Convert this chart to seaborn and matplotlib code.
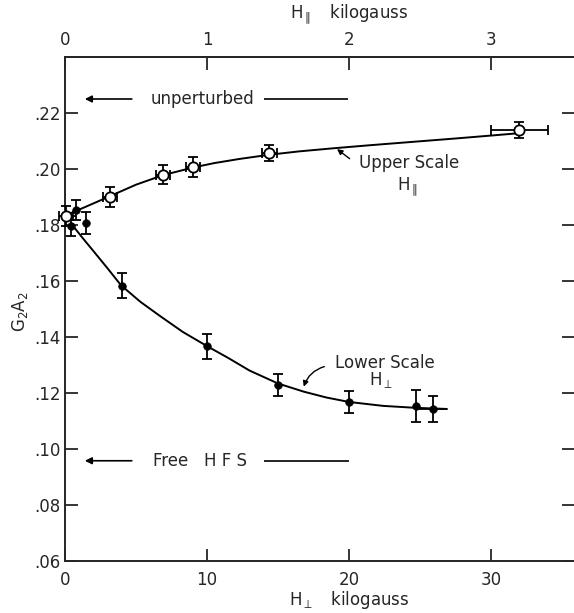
import matplotlib
matplotlib.use("Agg")
import matplotlib.pyplot as plt
import seaborn as sns
import pandas as pd

# ---- data ----
# Lower scale: H perpendicular (kilogauss), filled points
h_perp = [0.42, 0.77, 1.48, 4.0, 10.0, 15.0, 20.0, 24.7, 25.9]
g2a2_perp = [0.1797, 0.1854, 0.1807, 0.1583, 0.1367, 0.1229, 0.1168, 0.1155, 0.1144]
yerr_perp = [0.0035, 0.0035, 0.0039, 0.0044, 0.0045, 0.0039, 0.0039, 0.0057, 0.0047]
xerr_perp = [0, 0, 0, 0, 0, 0, 0, 0, 1.0]

# Upper scale: H parallel (kilogauss), open points
h_par = [0.007, 0.317, 0.69, 0.90, 1.44, 3.2]
g2a2_par = [0.1832, 0.1900, 0.1980, 0.2007, 0.2057, 0.2138]
yerr_par = [0.0036, 0.0037, 0.0034, 0.0035, 0.0027, 0.0029]
xerr_par = [0.05, 0.05, 0.05, 0.05, 0.05, 0.2]

# Hand-drawn curves
curve_perp_x = [0.5, 0.7, 1.3, 2.0, 3.0, 3.94, 5.3, 6.69, 8.3, 10.05, 11.5, 13.0, 15.0, 16.8, 18.4, 20.0, 22.4, 24.7, 26.9]
curve_perp_y = [0.1800, 0.1788, 0.1750, 0.1707, 0.1645, 0.1585, 0.1526, 0.1475, 0.1418, 0.1366, 0.1325, 0.1280, 0.1234, 0.1205, 0.1184, 0.1168, 0.1154, 0.1147, 0.1143]
curve_par_x = [0.03, 0.15, 0.317, 0.5, 0.69, 0.90, 1.05, 1.23, 1.44, 1.65, 1.89, 2.15, 2.45, 2.75, 2.99, 3.2]
curve_par_y = [0.1840, 0.1866, 0.1903, 0.1944, 0.1978, 0.2005, 0.2021, 0.2036, 0.2051, 0.2063, 0.2074, 0.2085, 0.2097, 0.2109, 0.2119, 0.2128]

y_ticks = [0.06, 0.08, 0.10, 0.12, 0.14, 0.16, 0.18, 0.20, 0.22]
y_tick_labels = [".06", ".08", ".10", ".12", ".14", ".16", ".18", ".20", ".22"]
x_ticks_bottom = [0, 10, 20, 30]
x_ticks_top = [0, 1, 2, 3]

df_perp = pd.DataFrame({"H": h_perp, "G2A2": g2a2_perp})
df_par = pd.DataFrame({"H": h_par, "G2A2": g2a2_par})
df_cperp = pd.DataFrame({"H": curve_perp_x, "G2A2": curve_perp_y})
df_cpar = pd.DataFrame({"H": curve_par_x, "G2A2": curve_par_y})

sns.set_style("ticks")
plt.rcParams["font.family"] = ["DejaVu Sans"]
plt.rcParams["mathtext.fontset"] = "dejavusans"

W, H = 574, 613
fig = plt.figure(figsize=(W / 100, H / 100), dpi=100)
ax = fig.add_axes([65 / W, 52 / H, 509 / W, 504 / H])
ax2 = ax.twiny()

ax.set_xlim(0, 509 / 14.2)
ax2.set_xlim(0, 509 / 142.0)
ax.set_ylim(0.06, 0.24)

lw = 1.4
# curves
sns.lineplot(data=df_cperp, x="H", y="G2A2", ax=ax, sort=False, estimator=None,
             color="black", lw=lw, zorder=2)
sns.lineplot(data=df_cpar, x="H", y="G2A2", ax=ax2, sort=False, estimator=None,
             color="black", lw=lw, zorder=2)

# error bars
ax.errorbar(h_perp, g2a2_perp, yerr=yerr_perp, fmt="none", ecolor="black",
            elinewidth=1.3, capsize=3.5, capthick=1.3, zorder=3, clip_on=False)
ax.errorbar(h_perp, g2a2_perp, xerr=xerr_perp, fmt="none", ecolor="black",
            elinewidth=1.3, capsize=0, zorder=3, linestyle="--", clip_on=False)
ax2.errorbar(h_par, g2a2_par, yerr=yerr_par, xerr=xerr_par, fmt="none",
             ecolor="black", elinewidth=1.3, capsize=3.5, capthick=1.3, zorder=3,
             clip_on=False)

# markers
sns.scatterplot(data=df_perp, x="H", y="G2A2", ax=ax, color="black", s=30,
                edgecolor="black", linewidth=0.5, zorder=4, clip_on=False)
sns.scatterplot(data=df_par, x="H", y="G2A2", ax=ax2, color="white", s=55,
                edgecolor="black", linewidth=1.3, zorder=4, clip_on=False)

# axes styling
for a in (ax, ax2):
    a.set_xlabel("")
    a.set_ylabel("")
ax.set_yticks(y_ticks)
ax.set_yticklabels(y_tick_labels)
ax.set_xticks(x_ticks_bottom)
ax.set_xticklabels([str(v) for v in x_ticks_bottom])
ax2.set_xticks(x_ticks_top)
ax2.set_xticklabels([str(v) for v in x_ticks_top])

ax.tick_params(axis="y", direction="in", length=9, width=1.3, left=True, right=True,
               labelsize=12, pad=3)
ax.tick_params(axis="x", direction="in", length=9, width=1.3, bottom=True, top=False,
               labelsize=12, pad=7)
ax2.tick_params(axis="x", direction="in", length=9, width=1.3, top=True, bottom=False,
                labelsize=12, pad=6)

for a in (ax, ax2):
    a.spines["right"].set_visible(False)
    for s in ("left", "bottom", "top"):
        a.spines[s].set_linewidth(1.4)
ax2.spines["left"].set_visible(False)
ax2.spines["bottom"].set_visible(False)

# annotations
fs = 12
ax.annotate("", xy=(1.2, 0.225), xytext=(4.9, 0.225),
            arrowprops=dict(arrowstyle="-|>", color="black", lw=1.2, mutation_scale=10))
ax.text(9.65, 0.225, "unperturbed", ha="center", va="center", fontsize=fs)
ax.hlines(0.225, 14.0, 19.9, color="black", lw=1.2)

ax.annotate("", xy=(1.2, 0.0958), xytext=(4.9, 0.0958),
            arrowprops=dict(arrowstyle="-|>", color="black", lw=1.2, mutation_scale=10))
ax.text(9.5, 0.0958, "Free   H F S", ha="center", va="center", fontsize=fs)
ax.hlines(0.0958, 14.0, 20.0, color="black", lw=1.2)

ax.text(24.2, 0.2021, "Upper Scale", ha="center", va="center", fontsize=fs)
ax.text(24.1, 0.1936, r"H$_{\parallel}$", ha="center", va="center", fontsize=fs)
ax.annotate("", xy=(19.0, 0.2077), xytext=(20.2, 0.2031),
            arrowprops=dict(arrowstyle="-|>", color="black", lw=1.0, mutation_scale=8))

ax.text(22.5, 0.1307, "Lower Scale", ha="center", va="center", fontsize=fs)
ax.text(22.3, 0.1245, r"H$_{\perp}$", ha="center", va="center", fontsize=fs)
ax.annotate("", xy=(16.76, 0.1213), xytext=(18.45, 0.1297),
            arrowprops=dict(arrowstyle="-|>", color="black", lw=1.0, mutation_scale=8,
                            connectionstyle="arc3,rad=0.3"))

fig.text(349 / W, 1 - 14 / H, r"H$_{\parallel}$   kilogauss", ha="center", va="center", fontsize=fs)
fig.text(349 / W, 1 - 600 / H, r"H$_{\perp}$   kilogauss", ha="center", va="center", fontsize=fs)
fig.text(20 / W, 1 - 312 / H, r"G$_2$A$_2$", ha="center", va="center", fontsize=fs, rotation=90)

fig.savefig("out.png", dpi=100)
